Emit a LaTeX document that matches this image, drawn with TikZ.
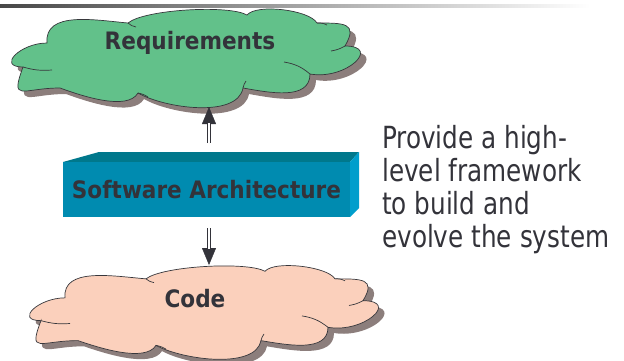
\documentclass[tikz,border=0pt]{standalone}
\usepackage{fontspec}
\setmainfont{DejaVu Sans Condensed}[FakeStretch=0.9]
\newfontfamily\labelfont{DejaVu Sans Condensed}
\usetikzlibrary{arrows.meta}

\definecolor{reqgreen}{RGB}{98,193,138}
\definecolor{codepeach}{RGB}{251,208,188}
\definecolor{cloudshade}{RGB}{140,126,124}
\definecolor{edgegray}{RGB}{55,55,60}
\definecolor{boxfront}{RGB}{0,139,176}
\definecolor{boxtop}{RGB}{0,120,140}
\definecolor{boxside}{RGB}{0,158,204}
\definecolor{inkgray}{RGB}{51,51,58}

% outline of one cloud, drawn in pixel units
\newcommand{\cloudoutline}{(23,-67) to[out=180,in=180,looseness=2] (47,-43)
	to[out=95,in=175] (128,-23)
	to[out=40,in=150,looseness=0.45] (247,-15)
	to[out=50,in=120,looseness=0.55] (317,-23)
	to[out=0,in=60,looseness=1.9] (345,-46)
	to[out=0,in=-10,looseness=2.1] (310,-74)
	to[out=-90,in=-10] (243,-88)
	to[out=-100,in=-30,looseness=0.75] (138,-93)
	to[out=-120,in=-20,looseness=0.7] (60,-88)
	to[out=180,in=-110,looseness=2.3] cycle}
\newcommand{\cloudcreases}{%
	\draw[edgegray, line width=0.7pt] (23,-67) to[bend right=10] (52,-70);
	\draw[edgegray, line width=0.7pt] (128,-23) to[bend right=15] (136,-27);
	\draw[edgegray, line width=0.7pt] (317,-23) to[bend left=15] (327,-25);
	\draw[edgegray, line width=0.7pt] (345,-46) to[bend left=10] (331,-51);
	\draw[edgegray, line width=0.7pt] (310,-74) to[bend right=15] (284,-62);
	\draw[edgegray, line width=0.7pt] (243,-88) to[bend left=10] (246,-81);
	\draw[edgegray, line width=0.7pt] (138,-93) to[bend left=10] (148,-97);
}

\begin{document}
\begin{tikzpicture}[x=1pt, y=1pt,
	cloudedge/.style={draw=edgegray, line width=0.7pt},
	label/.style={text=inkgray, font=\labelfont\bfseries\fontsize{24}{27}\selectfont, inner sep=0pt},
	notetext/.style={text=inkgray, font=\fontsize{30.5}{33}\selectfont, align=left, inner sep=0pt},
	shaftline/.style={draw=inkgray, line width=1.2pt, double=white, double distance=1.6pt},
	tipline/.style={draw=inkgray, fill=inkgray, line width=0.4pt, -{Triangle[width=14pt,length=17pt]}}]
	\useasboundingbox (0,0) rectangle (624,-360);

	% rule at the top
	\shade[left color=black!72, right color=white] (0,-4.5) rectangle (590,-7.5);

	% requirements cloud
	\fill[cloudshade] [shift={(6,-6)}] \cloudoutline;
	\draw[cloudedge, fill=reqgreen] \cloudoutline;
	\cloudcreases
	\node[label] (req) at (190,-43) {Requirements};

	% code cloud
	\begin{scope}[shift={(18,-257)}, yscale=0.95]
		\fill[cloudshade] [shift={(6,-6)}] \cloudoutline;
		\draw[cloudedge, fill=codepeach] \cloudoutline;
		\cloudcreases
	\end{scope}
	\node[label] (code) at (195,-299) {Code};

	% architecture block
	\fill[boxtop] (63,-162) -- (99,-152) -- (359,-152) -- (350,-162) -- cycle;
	\fill[boxside] (350,-162) -- (359,-152) -- (359,-208) -- (350,-217) -- cycle;
	\fill[boxfront] (63,-162) rectangle (350,-217);
	\node[label] (arch) at (206.5,-190) {Software Architecture};

	% arrows
	\coordinate (uptail) at (209,-143);
	\coordinate (reqtip) at (209,-107);
	\coordinate (downtail) at (209,-228);
	\coordinate (codetip) at (209,-265);
	\draw[tipline] (uptail) -- (reqtip);
	\draw[shaftline, shorten >=16pt] (uptail) -- (reqtip);
	\draw[tipline] (downtail) -- (codetip);
	\draw[shaftline, shorten >=16pt] (downtail) -- (codetip);

	\node[notetext, anchor=base west] (note) at (382,-247)
		{Provide a high-\\level framework\\to build and\\evolve the system};
\end{tikzpicture}
\end{document}
